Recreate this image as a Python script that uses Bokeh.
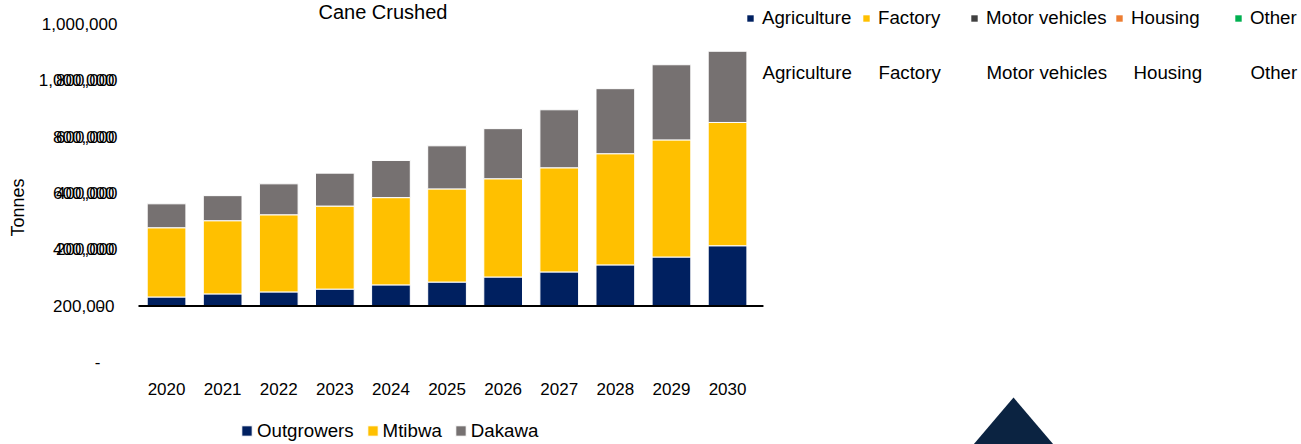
from bokeh.plotting import figure
from bokeh.models import (Range1d, FixedTicker, Legend, LegendItem, Label, LinearAxis,
                          PolyAnnotation, ColumnDataSource, NumeralTickFormatter)
from bokeh.embed import file_html
from bokeh.resources import INLINE

# ---------------- data ----------------
years = ["2020", "2021", "2022", "2023", "2024", "2025", "2026", "2027", "2028", "2029", "2030"]
outgrowers = [32000, 43000, 50000, 60000, 75000, 85000, 103000, 121000, 146000, 174000, 214000]
mtibwa = [246000, 260000, 274000, 295000, 310000, 331000, 349000, 370000, 395000, 416000, 438000]
dakawa = [85000, 89000, 110000, 117000, 132000, 153000, 178000, 206000, 231000, 267000, 253000]
series = ["Outgrowers", "Mtibwa", "Dakawa"]
series_colors = ["#002060", "#FFC000", "#767171"]

y_ticks = [0, 200000, 400000, 600000, 800000, 1000000]
y_tick_labels = ["-\u00a0\u00a0\u00a0", "200,000", "400,000", "600,000", "800,000", "1,000,000"]
y2_offset = 200000  # second, overlapping label set is shifted by this amount

top_labels = ["Agriculture", "Factory", "Motor vehicles", "Housing", "Other"]
top_colors = ["#002060", "#FFC000", "#404040", "#ED7D31", "#00B050"]

title_text = "Cane Crushed"
y_title = "Tonnes"

FONT = "Liberation Sans"
TXT = "#000000"
NB = "\u00a0"

# ---------------- geometry ----------------
W, H = 1301, 444
FL = 138            # frame left
CAT_PX = 56.1       # pixels per category
ZERO_PX = 305.5     # pixel row of value 0
PX_PER_M = 281.5    # pixels per 1,000,000 t


def yval(px):
    return (ZERO_PX - px) / PX_PER_M * 1e6


x_pos = list(range(len(years)))
p = figure(width=W, height=H,
           x_range=Range1d(-0.5, -0.5 + (W - FL) / CAT_PX),
           y_range=Range1d(yval(H), yval(0)),
           output_backend="svg", toolbar_location=None,
           min_border_left=FL, min_border_right=0, min_border_top=0, min_border_bottom=0)
p.extra_y_ranges = {"b": Range1d(yval(H) + y2_offset, yval(0) + y2_offset)}
p.outline_line_color = None
p.xgrid.grid_line_color = None
p.ygrid.grid_line_color = None
p.background_fill_color = "white"
p.border_fill_color = "white"

source = ColumnDataSource(dict(x=x_pos, Outgrowers=outgrowers, Mtibwa=mtibwa, Dakawa=dakawa))
bars = p.vbar_stack(series, x="x", width=0.69, fill_color=series_colors,
                    line_color="white", line_width=1, source=source)

# baseline (category axis line)
p.segment(x0=[x_pos[0] - 0.52], x1=[x_pos[-1] + 0.64], y0=[0], y1=[0],
          line_color="#000000", line_width=2)

# y axis (first label set)
ya = p.yaxis[0]
ya.ticker = FixedTicker(ticks=y_ticks)
ya.major_label_overrides = {t: l for t, l in zip(y_ticks, y_tick_labels)}
ya.axis_line_color = None
ya.major_tick_line_color = None
ya.minor_tick_line_color = None
ya.major_tick_out = 0
ya.major_tick_in = 0
ya.major_label_standoff = 21
ya.major_label_text_font = FONT
ya.major_label_text_font_size = "17px"
ya.major_label_text_color = TXT

# y axis (second, overlapping label set, drawn over the first one)
yb = LinearAxis(y_range_name="b", ticker=FixedTicker(ticks=y_ticks),
                formatter=NumeralTickFormatter(format="0,0"))
yb.major_label_overrides = {t: l for t, l in zip(y_ticks, y_tick_labels)}
yb.axis_line_color = None
yb.major_tick_line_color = None
yb.minor_tick_line_color = None
yb.major_tick_out = 0
yb.major_tick_in = 0
yb.major_label_standoff = -76
yb.major_label_text_font = FONT
yb.major_label_text_font_size = "17px"
yb.major_label_text_color = TXT
yb.axis_label = NB * 6 + y_title
yb.axis_label_text_font = FONT
yb.axis_label_text_font_size = "18px"
yb.axis_label_text_font_style = "normal"
yb.axis_label_text_color = TXT
yb.axis_label_standoff = 8
p.add_layout(yb, "left")

xa = p.xaxis[0]
xa.ticker = FixedTicker(ticks=x_pos)
xa.major_label_overrides = {i: y for i, y in zip(x_pos, years)}
xa.axis_line_color = None
xa.major_tick_line_color = None
xa.minor_tick_line_color = None
xa.major_tick_out = 0
xa.major_tick_in = 0
xa.fixed_location = yval(402)
xa.major_label_standoff = -20
xa.major_label_text_font = FONT
xa.major_label_text_font_size = "17px"
xa.major_label_text_color = TXT

# title
p.add_layout(Label(x=318 - FL, y=H - 11, x_units="screen", y_units="screen", text=title_text,
                   text_baseline="middle", text_font=FONT, text_font_size="20px",
                   text_color=TXT))

# bottom legend
leg = Legend(items=[LegendItem(label=s, renderers=[r]) for s, r in zip(series, bars)],
             orientation="horizontal", location=(240 - FL, H - 441.5),
             glyph_width=13, glyph_height=13,
             label_standoff=4, spacing=12, padding=0, margin=0, border_line_color=None,
             background_fill_alpha=0, label_text_font=FONT, label_text_font_size="18.7px",
             label_text_color=TXT)
p.add_layout(leg, "center")

# top-right legend: row 1 (markers + labels) and row 2 (labels only)
row1_x = [762, 878, 986, 1131, 1250]
row2_x = [762, 878, 986, 1133, 1250]
for lab, col, tx in zip(top_labels, top_colors, row1_x):
    r = p.vbar(x=[x_pos[0]], top=[float("nan")], width=0.5, fill_color=col, line_color=None)
    lg = Legend(items=[LegendItem(label=lab, renderers=[r])],
                location=(tx - FL - 16, H - 28.5),
                glyph_width=8, glyph_height=8, label_standoff=8, padding=0, margin=0,
                border_line_color=None, background_fill_alpha=0, label_text_font=FONT,
                label_text_font_size="18.7px", label_text_color=TXT)
    p.add_layout(lg, "center")
for lab, tx in zip(top_labels, row2_x):
    p.add_layout(Label(x=tx - FL, y=H - 72, x_units="screen", y_units="screen", text=lab,
                       text_baseline="middle", text_font=FONT, text_font_size="18.7px",
                       text_color=TXT))

# decorative triangle at the bottom right
p.add_layout(PolyAnnotation(xs=[826.5, 875, 923.5], ys=[-10, 47, -10], xs_units="screen",
                            ys_units="screen", fill_color="#0B2341", fill_alpha=1,
                            line_color=None))

open("out.html", "w").write(file_html(p, INLINE))
